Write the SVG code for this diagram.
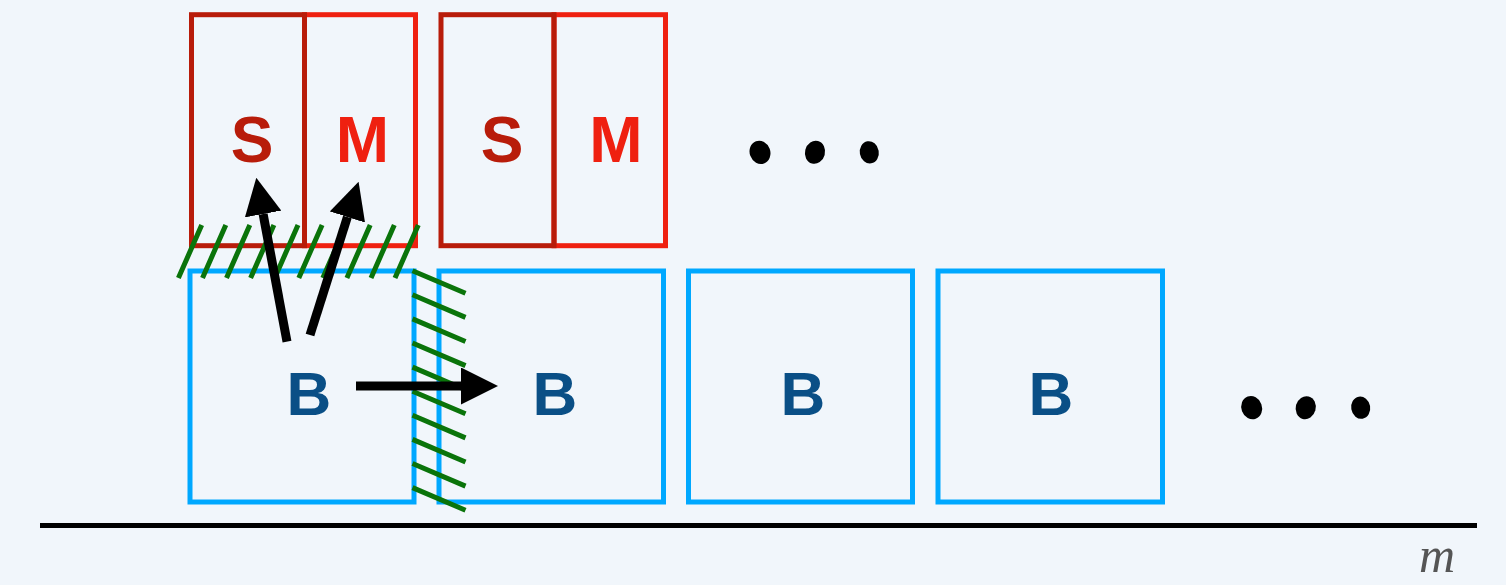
<svg xmlns="http://www.w3.org/2000/svg" width="1506" height="585" viewBox="0 0 1506 585">
  <defs>
    <style>
      .bg { fill: #f1f6fb; }
      .bbox { fill: none; stroke: #00a8ff; stroke-width: 5; }
      .sbox { fill: none; stroke: #b81c0a; stroke-width: 5; }
      .mbox { fill: none; stroke: #ef2010; stroke-width: 5; }
      .lbl { font-family: "Liberation Sans", Arial, sans-serif; font-weight: bold; text-anchor: middle; }
      .s { fill: #b81c0a; font-size: 64px; }
      .m { fill: #ef2010; font-size: 64px; }
      .b { fill: #0a4f86; font-size: 62px; }
      .hatch { fill: none; stroke: #0a740a; stroke-width: 5; }
      .arrow { fill: none; stroke: #000; stroke-width: 9; marker-end: url(#head); }
      .dot { fill: #000; }
    </style>
    <marker id="head" markerUnits="userSpaceOnUse" markerWidth="37" markerHeight="37" viewBox="0 0 36 36" refX="0" refY="18" orient="auto">
      <path d="M0,0 L36,18 L0,36 Z" fill="#000"/>
    </marker>
  </defs>
  <rect class="bg" x="0" y="0" width="1506" height="585"/>

  <g id="axis">
    <line x1="40" y1="525.5" x2="1477" y2="525.5" stroke="#000" stroke-width="5"/>
    <text x="1419" y="572" font-family="'Liberation Serif', 'Times New Roman', serif" font-style="italic" font-size="50" fill="#555">m</text>
  </g>

  <g id="M1"><rect class="mbox" x="304.5" y="14.7" width="111" height="231"/><text class="lbl m" x="362.5" y="161.5">M</text></g>
  <g id="S1"><rect class="sbox" x="191.5" y="14.7" width="113" height="231"/><text class="lbl s" x="252" y="161.5">S</text></g>
  <g id="M2"><rect class="mbox" x="554" y="14.7" width="111.5" height="231"/><text class="lbl m" x="616" y="161.5">M</text></g>
  <g id="S2"><rect class="sbox" x="441" y="14.7" width="113" height="231"/><text class="lbl s" x="502" y="161.5">S</text></g>

  <g id="dots1">
    <ellipse class="dot" cx="760" cy="152.3" rx="10.3" ry="11.8" transform="rotate(-20 760 152.3)"/>
    <ellipse class="dot" cx="815" cy="152.3" rx="10" ry="11.6" transform="rotate(15 815 152.3)"/>
    <ellipse class="dot" cx="869.3" cy="152.3" rx="9.5" ry="11.2" transform="rotate(-10 869.3 152.3)"/>
  </g>

  <g id="B1"><rect class="bbox" x="190" y="271" width="224" height="231"/><text class="lbl b" x="309" y="415">B</text></g>
  <g id="B2"><rect class="bbox" x="439" y="271" width="224.5" height="231"/><text class="lbl b" x="555" y="415">B</text></g>
  <g id="B3"><rect class="bbox" x="688.5" y="271" width="224" height="231"/><text class="lbl b" x="803" y="415">B</text></g>
  <g id="B4"><rect class="bbox" x="938" y="271" width="224.5" height="231"/><text class="lbl b" x="1051" y="415">B</text></g>

  <g id="dots2">
    <ellipse class="dot" cx="1251.7" cy="407.7" rx="10.3" ry="11.8" transform="rotate(-20 1251.7 407.7)"/>
    <ellipse class="dot" cx="1305.7" cy="407.7" rx="10" ry="11.6" transform="rotate(15 1305.7 407.7)"/>
    <ellipse class="dot" cx="1360.7" cy="407.7" rx="9.5" ry="11.2" transform="rotate(-10 1360.7 407.7)"/>
  </g>

  <g id="hatch-top">
    <path class="hatch" d="M201.7,225 L178.4,278 M225.8,225 L202.5,278 M249.8,225 L226.5,278 M273.9,225 L250.6,278 M298,225 L274.7,278 M322.1,225 L298.8,278 M346.1,225 L322.8,278 M370.2,225 L346.9,278 M394.3,225 L371,278 M418.3,225 L395,278"/>
  </g>
  <g id="hatch-side">
    <path class="hatch" d="M412.5,270.7 L465.5,293.3 M412.5,294.8 L465.5,317.4 M412.5,318.9 L465.5,341.5 M412.5,343 L465.5,365.6 M412.5,367.1 L465.5,389.7 M412.5,391.2 L465.5,413.8 M412.5,415.3 L465.5,437.9 M412.5,439.4 L465.5,462 M412.5,463.5 L465.5,486.1 M412.5,487.6 L465.5,510.2"/>
  </g>

  <g id="connectors">
    <line class="arrow" x1="287" y1="341.7" x2="263.1" y2="214"/>
    <line class="arrow" x1="310" y1="335" x2="347.4" y2="217"/>
    <line class="arrow" x1="356" y1="386" x2="461" y2="386"/>
  </g>
</svg>
